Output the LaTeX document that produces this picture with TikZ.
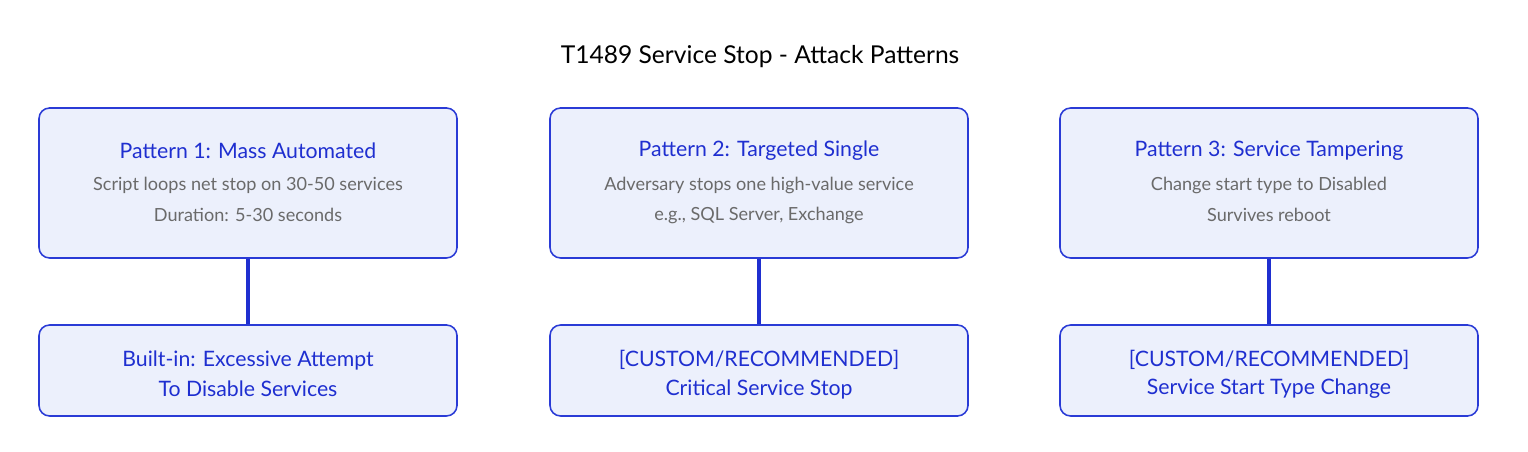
\documentclass[tikz,border=0pt]{standalone}
\usepackage{fontspec}
\setmainfont{Lato}
\definecolor{boxfill}{HTML}{ECF0FC}
\definecolor{boxline}{HTML}{2A3BD6}
\definecolor{headblue}{HTML}{1F2FD0}
\definecolor{detgray}{HTML}{6A6A6A}
\begin{document}
\begin{tikzpicture}[x=0.02cm,y=-0.02cm,
    patbox/.style={draw=boxline,fill=boxfill,rounded corners=6pt,line width=0.9pt,
      minimum width=418*0.02cm,minimum height=150*0.02cm,inner sep=0pt},
    rulebox/.style={patbox,minimum height=91*0.02cm},
    head/.style={text=headblue,font=\fontsize{12.1}{13}\selectfont},
    det/.style={text=detgray,font=\fontsize{10.3}{12}\selectfont},
    link/.style={draw=headblue,line width=1.8pt}]
  \useasboundingbox (0,0) rectangle (1528,452);
  \node (title) at (760,57) {\fontsize{14}{16}\selectfont T1489 Service Stop - Attack Patterns};
  % Pattern 1
  \node[patbox] (p1) at (248,183) {};
  \node[head] at (248,151) {Pattern 1: Mass Automated};
  \node[det] at (248,185) {Script loops net stop on 30-50 services};
  \node[det] at (248,215) {Duration: 5-30 seconds};
  \node[rulebox] (r1) at (248,370.5) {};
  \node[head] at (248,360) {Built-in: Excessive Attempt};
  \node[head] at (248,389) {To Disable Services};
  % Pattern 2
  \node[patbox] (p2) at (759,183) {};
  \node[head] at (759,151) {Pattern 2: Targeted Single};
  \node[det] at (759,185) {Adversary stops one high-value service};
  \node[det] at (759,215) {e.g., SQL Server, Exchange};
  \node[rulebox] (r2) at (759,370.5) {};
  \node[head] at (759,360) {[CUSTOM/RECOMMENDED]};
  \node[head] at (759,389) {Critical Service Stop};
  % Pattern 3
  \node[patbox] (p3) at (1269,183) {};
  \node[head] at (1269,151) {Pattern 3: Service Tampering};
  \node[det] at (1269,185) {Change start type to Disabled};
  \node[det] at (1269,215) {Survives reboot};
  \node[rulebox] (r3) at (1269,370.5) {};
  \node[head] at (1269,360) {[CUSTOM/RECOMMENDED]};
  \node[head] at (1269,389) {Service Start Type Change};
  % links
  \draw[link] (p1) -- (r1);
  \draw[link] (p2) -- (r2);
  \draw[link] (p3) -- (r3);
\end{tikzpicture}
\end{document}
